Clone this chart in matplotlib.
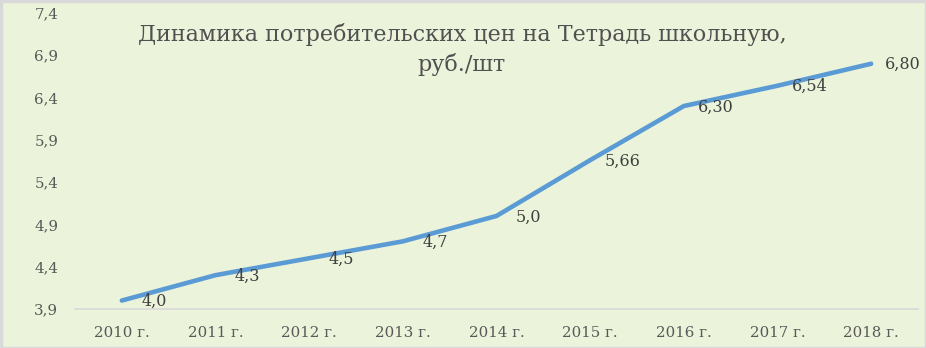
import matplotlib
matplotlib.use('Agg')
import matplotlib.pyplot as plt
import matplotlib.patches as mpatches
from matplotlib.transforms import offset_copy

years = ['2010 г.', '2011 г.', '2012 г.', '2013 г.', '2014 г.', '2015 г.', '2016 г.', '2017 г.', '2018 г.']
prices = [4.0, 4.3, 4.5, 4.7, 5.0, 5.66, 6.30, 6.54, 6.80]
price_labels = ['4,0', '4,3', '4,5', '4,7', '5,0', '5,66', '6,30', '6,54', '6,80']
y_ticks = [3.9, 4.4, 4.9, 5.4, 5.9, 6.4, 6.9, 7.4]

bg = '#EBF4DA'
plt.rcParams['font.family'] = ['DejaVu Serif']

fig = plt.figure(figsize=(9.26, 3.48), dpi=100)
fig.patch.set_facecolor(bg)
ax = fig.add_axes([75/926, 39/348, 843/926, 296/348])
ax.set_facecolor(bg)

x = list(range(len(years)))
ax.plot(x, prices, color='#5B9BD5', lw=3.3, solid_capstyle='round', zorder=3)

# data labels to the right of each point
lbl_tr = offset_copy(ax.transData, fig=fig, x=32, y=-1, units='dots')
for xi, v, s in zip(x, prices, price_labels):
    ax.text(xi, v, s, transform=lbl_tr, ha='center', va='center',
            fontsize=11.5, color='#404040', zorder=4)

ax.set_xlim(-0.5, len(years) - 0.5)
ax.set_ylim(3.9, 7.4)
ax.set_xticks(x)
ax.set_xticklabels(years)
ax.set_yticks(y_ticks)
ax.set_yticklabels([f'{t:.1f}'.replace('.', ',') for t in y_ticks])
ax.tick_params(axis='both', length=0, labelsize=10.8, colors='#595959')
ax.tick_params(axis='y', pad=12)
ax.tick_params(axis='x', pad=12)

for side in ['left', 'right', 'top']:
    ax.spines[side].set_visible(False)
ax.spines['bottom'].set_color('#D9D9D9')
ax.spines['bottom'].set_linewidth(1.2)

fig.text(462/926, 1 - 35/348, 'Динамика потребительских цен на Тетрадь школьную,',
         ha='center', va='center', fontsize=16, color='#505050')
fig.text(462/926, 1 - 64/348, 'руб./шт',
         ha='center', va='center', fontsize=16, color='#505050')

# chart border
border = mpatches.Rectangle((0.5/926, 0.5/348), 1 - 1/926, 1 - 1/348, transform=fig.transFigure,
                            fill=False, edgecolor='#D9D9D9', lw=2.5)
fig.patches.append(border)

fig.savefig('out.png', dpi=100, facecolor=bg)
